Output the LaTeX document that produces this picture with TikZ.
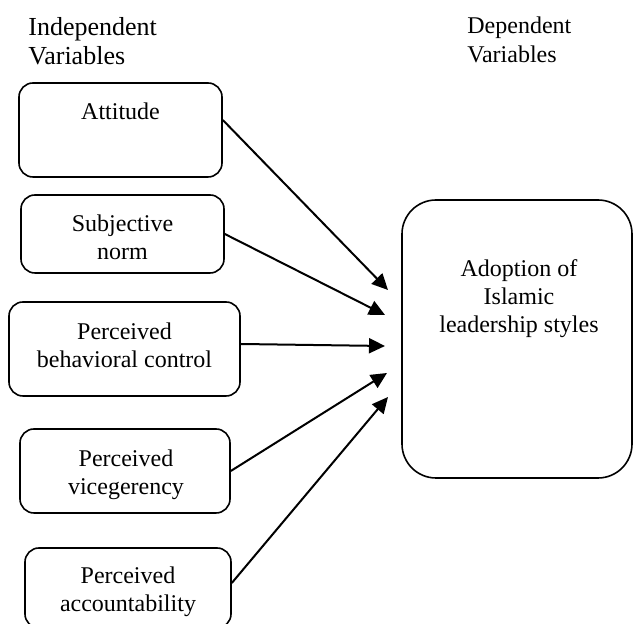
\documentclass[tikz,border=0pt]{standalone}
\usepackage{fontspec}
\setmainfont{Liberation Serif}
\usetikzlibrary{arrows.meta}
\tikzset{
  varbox/.style={draw, line width=0.8pt, rounded corners=7pt, inner sep=0pt},
  vartext/.style={align=center, inner sep=0pt, anchor=base, font=\fontsize{12}{14.2}\selectfont},
  head/.style={align=left, inner sep=0pt, anchor=base west},
  link/.style={-{Triangle[length=8pt,width=7.5pt]}, line width=1pt},
}

\begin{document}
\begin{tikzpicture}[x=0.5pt, y=-0.5pt]
      \useasboundingbox (0,0) rectangle (633,624);

      % headers, placed by the baseline of their last line
      \node [head, font=\fontsize{13}{14.5}\selectfont] (indep) at (28,65) {Independent\\Variables};
      \node [head, font=\fontsize{12}{14.5}\selectfont] (dep)   at (467,63) {Dependent\\Variables};

      \node [varbox, minimum width=101.5pt, minimum height=47pt] (att) at (120.5,130) {};
      \node [vartext] (atttxt) at (120.5,120) {Attitude};

      \node [varbox, minimum width=101.5pt, minimum height=39pt] (sn) at (122.5,234) {};
      \node [vartext] (sntxt) at (122.5,260) {Subjective\\norm};

      \node [varbox, minimum width=115.5pt, minimum height=47pt] (pbc) at (124.5,349) {};
      \node [vartext] (pbctxt) at (124.5,368) {Perceived\\behavioral control};

      \node [varbox, minimum width=105pt, minimum height=42pt] (pv) at (125,471) {};
      \node [vartext] (pvtxt) at (126,495) {Perceived\\vicegerency};

      \node [varbox, minimum width=103pt, minimum height=40pt] (pa) at (128,588) {};
      \node [vartext] (patxt) at (128,612) {Perceived\\accountability};

      \node [varbox, rounded corners=17pt, minimum width=115pt, minimum height=139pt] (ado) at (517,339) {};
      \node [vartext] (adotxt) at (519,333) {Adoption of\\Islamic\\leadership styles};

      \coordinate (tip1) at (388,290);
      \coordinate (tip2) at (385,315);
      \coordinate (tip3) at (385,346);
      \coordinate (tip4) at (387,373);
      \coordinate (tip5) at (388,397);

      \draw [link] ([yshift=5pt]att.east) to (tip1);
      \draw [link] (sn.east) to (tip2);
      \draw [link] ([yshift=2.5pt]pbc.east) to (tip3);
      \draw [link] (pv.east) to (tip4);
      \draw [link] ([yshift=2.5pt]pa.east) to (tip5);
    \end{tikzpicture}
\end{document}
